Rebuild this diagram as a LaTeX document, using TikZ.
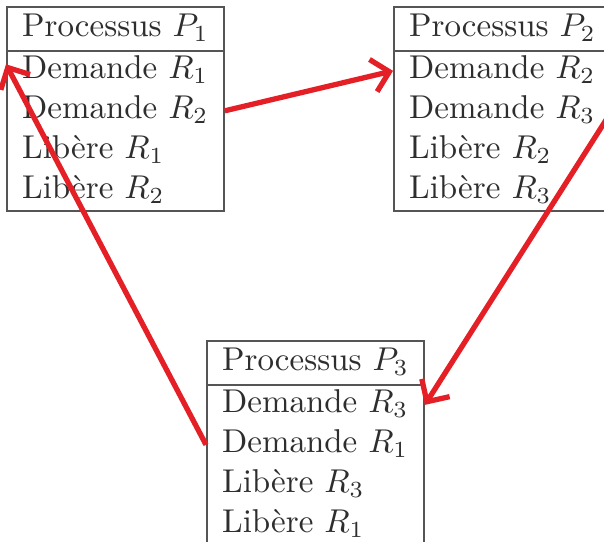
\documentclass[tikz,border=0pt]{standalone}
\usepackage{amsmath}
\usetikzlibrary{shapes.multipart,arrows.meta}

\definecolor{arrowred}{RGB}{228,32,38}
\definecolor{boxgray}{RGB}{85,85,85}

\tikzset{
  process/.style={rectangle split, rectangle split parts=5,
    rectangle split draw splits=false, rectangle split part align=left,
    draw=boxgray, line width=0.6pt, text=black!82,
    inner xsep=4.6pt, inner ysep=0.15pt, anchor=north west},
  wait/.style={draw=arrowred, line width=1.6pt,
    -{Straight Barb[length=5pt,width=10pt]}}
}
\newcommand{\row}[1]{\rule[-3.3pt]{0pt}{11.2pt}#1}
\newcommand{\headrow}[1]{\rule[-3.9pt]{0pt}{12.4pt}#1}

\begin{document}
\begin{tikzpicture}[x=0.303pt, y=-0.303pt]
    % Page frame
    \useasboundingbox (0,0) rectangle (604,541);
    \clip (0,0) rectangle (604,541);
    \fill[white] (0,0) rectangle (604,541);

    % Draw the three processes
    \node[process] (p1) at (6,6) {\headrow{Processus $P_1$}
      \nodepart{two}\row{Demande $R_1$}
      \nodepart{three}\row{Demande $R_2$}
      \nodepart{four}\row{Libère $R_1$}
      \nodepart{five}\row{Libère $R_2$}};
    \node[process] (p2) at (393,6) {\headrow{Processus $P_2$}
      \nodepart{two}\row{Demande $R_2$}
      \nodepart{three}\row{Demande $R_3$}
      \nodepart{four}\row{Libère $R_2$}
      \nodepart{five}\row{Libère $R_3$}};
    \node[process] (p3) at (206,340) {\headrow{Processus $P_3$}
      \nodepart{two}\row{Demande $R_3$}
      \nodepart{three}\row{Demande $R_1$}
      \nodepart{four}\row{Libère $R_3$}
      \nodepart{five}\row{Libère $R_1$}};

    % Header lines
    \foreach \p in {p1,p2,p3}
      \draw[boxgray, line width=0.6pt] (\p.one split west) -- (\p.one split east);

    % Draw the waiting arrows
    \draw[wait] (p1.three east) -- (p2.two west);
    \draw[wait] (p2.three east) -- (p3.two east);
    \draw[wait] (p3.three west) -- ([yshift=2pt]p1.two west);
\end{tikzpicture}
\end{document}
